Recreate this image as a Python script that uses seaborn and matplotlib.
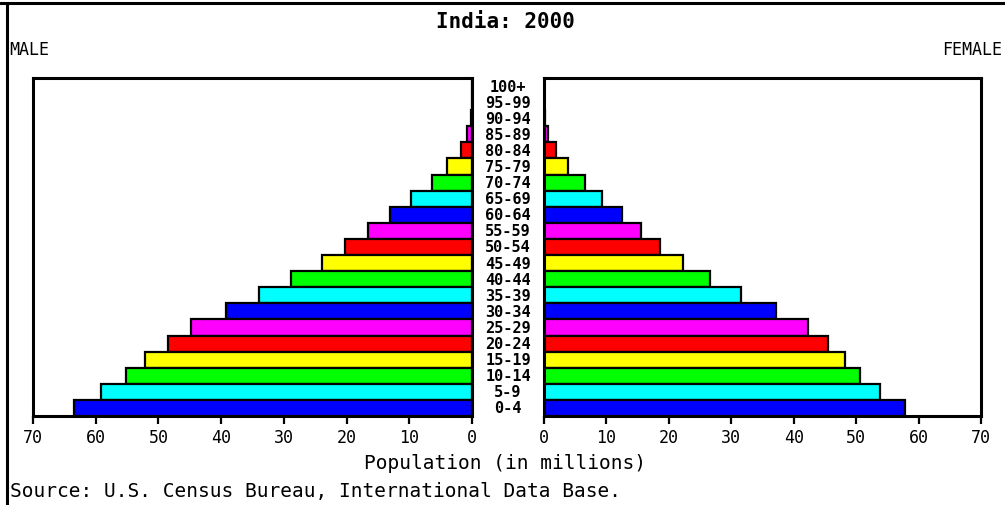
import matplotlib
matplotlib.use("Agg")
import matplotlib.pyplot as plt
import matplotlib.transforms as mtransforms
from matplotlib.lines import Line2D
import seaborn as sns
import pandas as pd

ages = ["0-4", "5-9", "10-14", "15-19", "20-24", "25-29", "30-34", "35-39",
        "40-44", "45-49", "50-54", "55-59", "60-64", "65-69", "70-74",
        "75-79", "80-84", "85-89", "90-94", "95-99", "100+"]
male = [63.5, 59.2, 55.2, 52.2, 48.5, 44.8, 39.2, 34.0, 28.9, 23.9, 20.3,
        16.6, 13.0, 9.7, 6.3, 4.0, 1.8, 0.8, 0.2, 0.05, 0.02]
female = [57.8, 53.8, 50.6, 48.2, 45.5, 42.3, 37.2, 31.6, 26.6, 22.3, 18.6,
          15.5, 12.5, 9.3, 6.6, 3.9, 1.9, 0.6, 0.15, 0.05, 0.02]
ticks = [0, 10, 20, 30, 40, 50, 60, 70]
cycle = ["#0000FF", "#00FFFF", "#00FF00", "#FFFF00", "#FF0000", "#FF00FF"]

sns.set_style("white")
plt.rcParams["font.family"] = ["DejaVu Sans Mono", "DejaVu Sans"]
plt.rcParams["text.color"] = "black"
plt.rcParams["xtick.color"] = "black"
plt.rcParams["xtick.labelcolor"] = "black"

W, H = 1005, 506
fig = plt.figure(figsize=(W / 100, H / 100), dpi=100)
fig.patch.set_facecolor("white")

def ax_px(x0, x1, ytop, ybot):
    return fig.add_axes([x0 / W, (H - ybot) / H, (x1 - x0) / W, (ybot - ytop) / H])

axL = ax_px(33, 472, 79, 417)
axR = ax_px(544, 981, 79, 417)

df = pd.DataFrame({"age": ages, "male": male, "female": female})
palette = {a: cycle[i % len(cycle)] for i, a in enumerate(ages)}
order = ages[::-1]

for ax, col in [(axL, "male"), (axR, "female")]:
    sns.barplot(data=df, x=col, y="age", hue="age", order=order, hue_order=order,
                palette=palette, orient="h", width=1.0, edgecolor="black",
                linewidth=1.6, legend=False, saturation=1, ax=ax)
    ax.set_ylim(len(ages) - 0.5, -0.5)
    ax.set_yticks([])
    ax.set_ylabel("")
    ax.set_xlabel("")
    ax.set_xticks(ticks)
    ax.set_xticklabels([str(t) for t in ticks], fontsize=12, color="black")
    ax.tick_params(axis="x", direction="out", length=6, width=1.6, pad=3,
                   bottom=True, colors="black")
    for s in ax.spines.values():
        s.set_linewidth(2.2)
        s.set_color("black")
        s.set_visible(True)

axL.set_xlim(70, 0)
axR.set_xlim(0, 70)

# Age labels in the centre column
trans = mtransforms.blended_transform_factory(fig.transFigure, axL.transData)
for a in ages:
    fig.text(508 / W, order.index(a), a, transform=trans, ha="center",
             va="center", fontsize=11, fontweight="bold", color="black")

fig.text(505 / W, 1 - 22 / H, "India: 2000", ha="center", va="center",
         fontsize=15, fontweight="bold", color="black")
fig.text(9 / W, 1 - 50 / H, "MALE", ha="left", va="center", fontsize=12,
         color="black")
fig.text(1002 / W, 1 - 50 / H, "FEMALE", ha="right", va="center", fontsize=12,
         color="black")
fig.text(505 / W, 1 - 464 / H, "Population (in millions)", ha="center",
         va="center", fontsize=14, color="black")
fig.text(10 / W, 1 - 492 / H, "Source: U.S. Census Bureau, International Data Base.",
         ha="left", va="center", fontsize=14, color="black")

# Outer frame lines (top and left)
fig.add_artist(Line2D([0, 1], [1 - 4 / H, 1 - 4 / H], transform=fig.transFigure,
                      color="black", linewidth=2.2))
fig.add_artist(Line2D([7 / W, 7 / W], [0, 1 - 4 / H], transform=fig.transFigure,
                      color="black", linewidth=2.2))

fig.savefig("out.png", dpi=100, facecolor="white")
